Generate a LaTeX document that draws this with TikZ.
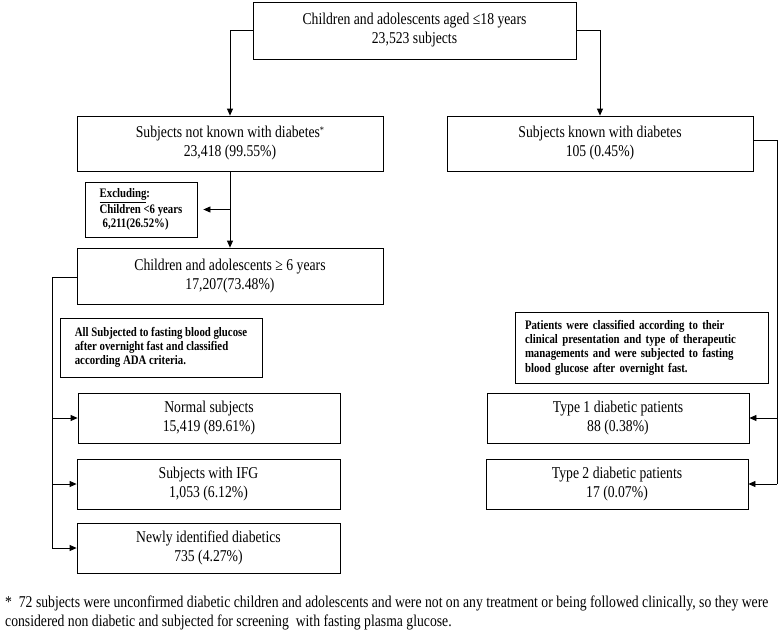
\documentclass[tikz,border=0pt]{standalone}
\usepackage{fontspec}
\setmainfont{Liberation Serif}[FakeStretch=0.83]
\usepackage{amssymb}
\usepackage{amsmath}
\usetikzlibrary{arrows.meta}

\begin{document}
\begin{tikzpicture}[x=1pt,y=-1pt,
   box/.style={draw,shape=rectangle,line width=0.8pt,align=center,inner sep=0pt,
     font=\fontsize{16.5}{19}\selectfont},
   note/.style={draw,shape=rectangle,line width=0.8pt,align=left,inner xsep=10pt,inner ysep=0pt,
     font=\bfseries\fontsize{13}{14.3}\selectfont},
   link/.style={line width=0.8pt,-{Triangle[length=7pt,width=6pt]}},
   bus/.style={line width=0.8pt}]
   \useasboundingbox (0,0) rectangle (780,637);

   % screened population
   \path (414.5,30.5) node[box,minimum width=323pt,minimum height=57pt] (top)
   {Children and adolescents aged ≤18 years\\23,523 subjects};

   % left branch
   \path (230,143.5) node[box,minimum width=306pt,minimum height=55pt] (notknown)
   {Subjects not known with diabetes\raisebox{4pt}{\fontsize{10}{10}\selectfont*}\\23,418 (99.55\%)};
   \path (141,209.5) node[note,minimum width=112pt,minimum height=55pt] (excl)
   {\underline{Excluding}:\\Children <6 years\\\hspace*{3pt}6,211(26.52\%)};
   \path (230,276) node[box,minimum width=306pt,minimum height=56pt] (older)
   {Children and adolescents ≥ 6 years\\17,207(73.48\%)};
   \path (161,347.5) node[note,minimum width=202pt,minimum height=59pt] (ada)
   {All Subjected to fasting blood glucose\\after overnight fast and classified\\according ADA criteria.};
   \path (209,418) node[box,minimum width=262pt,minimum height=50pt] (normal)
   {Normal subjects\\15,419 (89.61\%)};
   \path (208.5,484) node[box,minimum width=263pt,minimum height=50pt] (ifg)
   {Subjects with IFG\\1,053 (6.12\%)};
   \path (208.5,548) node[box,minimum width=263pt,minimum height=50pt] (newly)
   {Newly identified diabetics\\735 (4.27\%)};

   % right branch
   \path (600,143.5) node[box,minimum width=306pt,minimum height=55pt] (known)
   {Subjects known with diabetes\\105 (0.45\%)};
   \path (641.5,347.5) node[note,text width=233pt,minimum height=71pt] (patients)
   {Patients were classified according to their\\clinical presentation and type of therapeutic\\managements and were subjected to fasting\\blood glucose after overnight fast.};
   \path (618,418) node[box,minimum width=262pt,minimum height=50pt] (type1)
   {Type 1 diabetic patients\\88 (0.38\%)};
   \path (617,484) node[box,minimum width=262pt,minimum height=50pt] (type2)
   {Type 2 diabetic patients\\17 (0.07\%)};

   % footnote
   \path (5,596) node[anchor=north west,align=left,inner sep=0pt,
     font=\fontsize{16.5}{19}\selectfont] (foot)
   {*\ \ 72 subjects were unconfirmed diabetic children and adolescents and were not on any treatment or being followed clinically, so they were\\
    considered non diabetic and subjected for screening\ \ with fasting plasma glucose.};

   % connectors
   \draw[link] (top.west) -| (notknown.north);
   \draw[link] (top.east) -| (known.north);
   \draw[link] (notknown.south) -- (older.north);
   \draw[link,shorten >=6pt] (notknown.south |- excl.east) -- (excl.east);

   \path (52,277) coordinate (lbus);
   \draw[bus] (older.west |- lbus) -- (lbus) -- (lbus |- newly.west);
   \foreach \n in {normal,ifg,newly}
     \draw[link] (lbus |- \n.west) -- (\n.west);

   \path (777,140) coordinate (rbus);
   \draw[bus] (known.east |- rbus) -- (rbus) -- (rbus |- type2.east);
   \foreach \n in {type1,type2}
     \draw[link] (rbus |- \n.east) -- (\n.east);
\end{tikzpicture}
\end{document}
